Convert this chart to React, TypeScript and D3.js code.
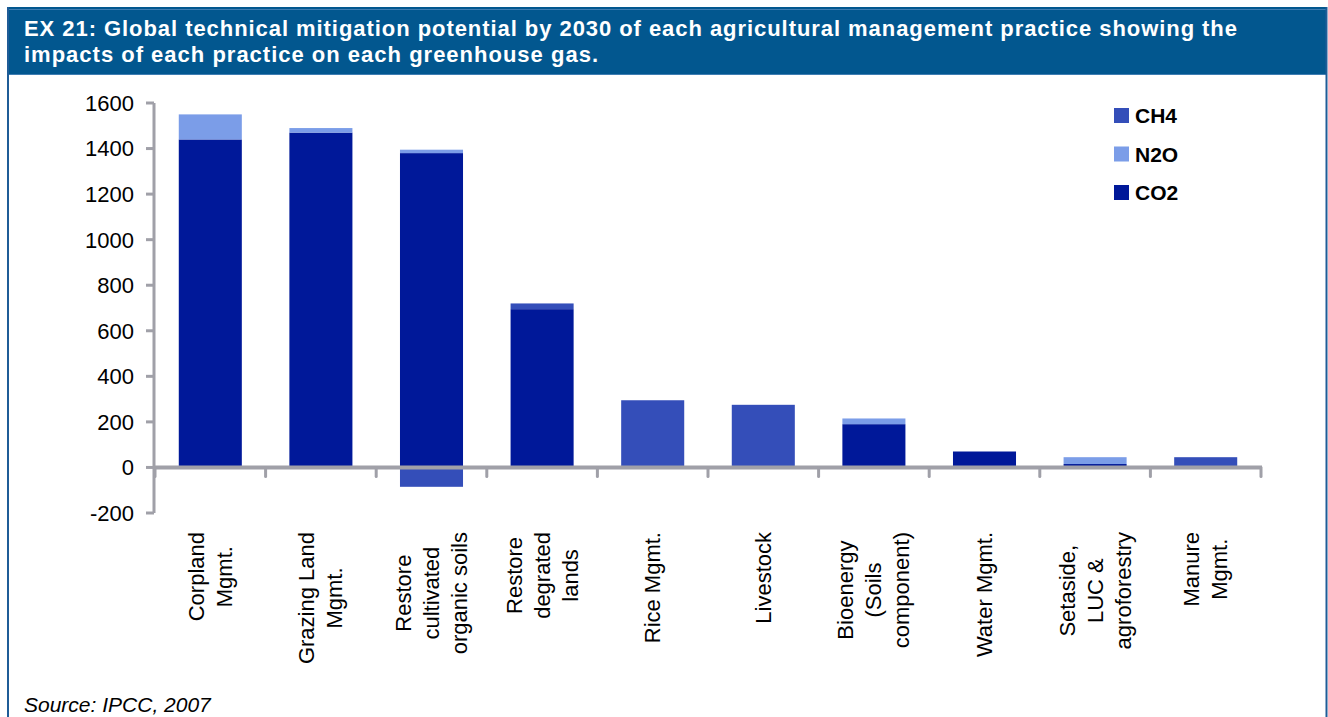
import React, { useRef, useEffect } from 'react';
import * as d3 from 'd3';

const categories = [
  'Corpland\nMgmt.',
  'Grazing Land\nMgmt.',
  'Restore\ncultivated\norganic soils',
  'Restore\ndegrated\nlands',
  'Rice Mgmt.',
  'Livestock',
  'Bioenergy\n(Soils\ncomponent)',
  'Water Mgmt.',
  'Setaside,\nLUC &\nagroforestry',
  'Manure\nMgmt.',
];

const co2 = [1440, 1470, 1380, 695, 0, 0, 190, 70, 15, 0];
const n2o = [110, 20, 15, 0, 0, 0, 25, 0, 30, 0];
const ch4 = [0, 0, -85, 25, 295, 275, 0, 0, 0, 45];

const yTicks = [-200, 0, 200, 400, 600, 800, 1000, 1200, 1400, 1600];

const seriesKeys = ['CO2', 'N2O', 'CH4'];
const legendKeys = ['CH4', 'N2O', 'CO2'];
const colors: Record<string, string> = { CO2: '#001899', N2O: '#7b9de8', CH4: '#344eb9' };

const titleLines = [
  'EX 21: Global technical mitigation potential by 2030 of each agricultural management practice showing the',
  'impacts of each practice on each greenhouse gas.',
];
const titleWidths = [1213, 574];
const source = 'Source: IPCC, 2007';

const W = 1328;
const H = 717;
const FONT = '"Liberation Sans", Arial, sans-serif';
const AXIS = '#a0a0a8';

export default function App() {
  const svgRef = useRef<SVGSVGElement>(null);

  useEffect(() => {
    document.body.style.margin = '0';
    document.body.style.overflow = 'hidden';
    if (!svgRef.current) return;
    const svg = d3.select(svgRef.current);
    svg.selectAll('*').remove();

    // frame + header
    svg.append('rect').attr('x', 0).attr('y', 0).attr('width', W).attr('height', H).attr('fill', '#fff');
    svg.append('rect').attr('x', 7).attr('y', 7).attr('width', 1320).attr('height', 68).attr('fill', '#02578f');
    svg.append('line').attr('x1', 7).attr('x2', 1327).attr('y1', 9.5).attr('y2', 9.5).attr('stroke', '#3f7db2').attr('stroke-width', 1);
    svg.append('line').attr('x1', 7).attr('x2', 1327).attr('y1', 74.5).attr('y2', 74.5).attr('stroke', '#3f7db2').attr('stroke-width', 1);
    svg.append('line').attr('x1', 8).attr('x2', 8).attr('y1', 7).attr('y2', H).attr('stroke', '#1f5c97').attr('stroke-width', 2);
    svg.append('line').attr('x1', 1326.5).attr('x2', 1326.5).attr('y1', 7).attr('y2', H).attr('stroke', '#1f5c97').attr('stroke-width', 2);

    titleLines.forEach((t, i) => {
      svg.append('text')
        .attr('x', 24).attr('y', 36 + i * 26)
        .attr('fill', '#fff').attr('font-family', FONT).attr('font-weight', 'bold').attr('font-size', '22px')
        .attr('textLength', titleWidths[i]).attr('lengthAdjust', 'spacing')
        .text(t);
    });

    const x = d3.scaleBand<number>()
      .domain(categories.map((_, i) => i))
      .range([155, 1261])
      .paddingInner(0.43)
      .paddingOuter(0.215);
    const step = x.step();

    const y = d3.scaleLinear().domain([-200, 1600]).range([513, 103]);

    const rows = categories.map((_, i) => ({ CO2: co2[i], N2O: n2o[i], CH4: ch4[i] }));
    const stacked = d3.stack<any>().keys(seriesKeys).offset(d3.stackOffsetDiverging)(rows);

    const g = svg.append('g');
    stacked.forEach(s => {
      g.selectAll(null)
        .data(s)
        .join('rect')
        .attr('x', (_, i) => x(i)!)
        .attr('width', x.bandwidth())
        .attr('y', d => y(Math.max(d[0], d[1])))
        .attr('height', d => Math.abs(y(d[0]) - y(d[1])))
        .attr('fill', colors[s.key]);
    });

    // y axis
    g.append('line').attr('x1', 154).attr('x2', 154).attr('y1', y(1600)).attr('y2', y(-200))
      .attr('stroke', AXIS).attr('stroke-width', 3);
    yTicks.forEach(t => {
      g.append('line').attr('x1', 146).attr('x2', 154).attr('y1', y(t)).attr('y2', y(t))
        .attr('stroke', AXIS).attr('stroke-width', 3);
      g.append('text').attr('x', 134).attr('y', y(t)).attr('dy', '0.36em')
        .attr('text-anchor', 'end').attr('font-family', FONT).attr('font-size', '22px').attr('fill', '#000')
        .text(t);
    });

    // x axis
    g.append('line').attr('x1', 154).attr('x2', 1262).attr('y1', y(0)).attr('y2', y(0))
      .attr('stroke', AXIS).attr('stroke-width', 4);
    d3.range(categories.length + 1).forEach(i => {
      const xx = 155 + i * step;
      g.append('line').attr('x1', xx).attr('x2', xx).attr('y1', y(0)).attr('y2', y(0) + 9)
        .attr('stroke', AXIS).attr('stroke-width', 3).attr('stroke-linecap', 'round');
    });

    // category labels (rotated)
    categories.forEach((c, i) => {
      const lines = c.split('\n');
      const cx = x(i)! + x.bandwidth() / 2;
      const lg = g.append('g');
      const texts = lines.map(l =>
        lg.append('text')
          .attr('font-family', FONT).attr('font-size', '22px').attr('fill', '#000')
          .attr('text-anchor', 'middle').attr('dominant-baseline', 'central')
          .text(l)
      );
      const maxLen = d3.max(texts, t => (t.node() as SVGTextElement).getComputedTextLength())!;
      const cy = 532 + maxLen / 2;
      const sp = 28;
      texts.forEach((t, j) => {
        const lx = cx + (j - (lines.length - 1) / 2) * sp;
        t.attr('transform', `translate(${lx},${cy}) rotate(-90)`);
      });
    });

    // legend
    legendKeys.forEach((k, i) => {
      const ly = 108 + i * 38.5;
      svg.append('rect').attr('x', 1114).attr('y', ly).attr('width', 15).attr('height', 15).attr('fill', colors[k]);
      svg.append('text').attr('x', 1135).attr('y', ly + 7.5).attr('dy', '0.36em')
        .attr('font-family', FONT).attr('font-weight', 'bold').attr('font-size', '21px').attr('fill', '#000')
        .text(k);
    });

    svg.append('text').attr('x', 24).attr('y', 712)
      .attr('font-family', FONT).attr('font-style', 'italic').attr('font-size', '21px').attr('fill', '#000')
      .text(source);
  }, []);

  return <svg ref={svgRef} width={W} height={H} style={{ display: 'block' }} />;
}
